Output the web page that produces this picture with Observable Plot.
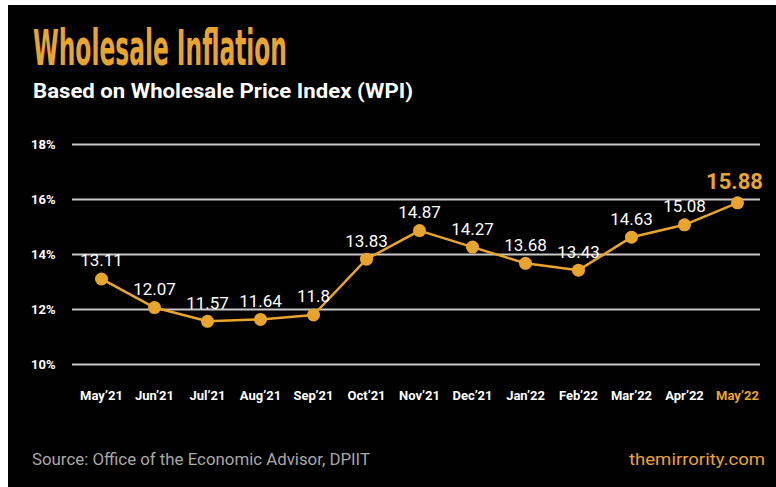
<!DOCTYPE html>
<html>
<head>
<meta charset="utf-8">
<script src="https://cdn.jsdelivr.net/npm/d3@7"></script>
<script src="https://cdn.jsdelivr.net/npm/@observablehq/plot@0.6"></script>
<style>
  html, body { margin: 0; padding: 0; background: #fff; }
  #wrap { position: relative; width: 776px; height: 487px; overflow: hidden; background: #fff; }
  #card { position: absolute; left: 8px; top: 5px; width: 768px; height: 482px; background: #000; }
  .layer { position: absolute; left: 0; }
  text { font-family: Roboto, "Noto Sans", sans-serif; }
</style>
</head>
<body>
<div id="wrap">
  <div id="card"></div>
  <svg class="layer" id="header" style="top:0" width="776" height="110">
    <text x="33" y="65" fill="#E8A52E" font-family="DejaVu Sans" font-stretch="condensed" font-weight="bold" font-size="50" textLength="254" lengthAdjust="spacingAndGlyphs" style="font-family:'DejaVu Sans Condensed','DejaVu Sans';">Wholesale Inflation</text>
    <text x="33" y="98" fill="#ffffff" font-weight="bold" font-size="21" textLength="380" lengthAdjust="spacingAndGlyphs">Based on Wholesale Price Index (WPI)</text>
  </svg>
  <div class="layer" id="chart" style="top:110px"></div>
  <svg class="layer" id="footer" style="top:420px" width="776" height="67">
    <text x="32" y="45" fill="#a8a8a8" font-size="16" textLength="338" lengthAdjust="spacingAndGlyphs">Source: Office of the Economic Advisor, DPIIT</text>
    <text x="629" y="45" fill="#E8A52E" font-size="17" textLength="136" lengthAdjust="spacingAndGlyphs">themirrority.com</text>
  </svg>
</div>
<script>
const months = ["May’21","Jun’21","Jul’21","Aug’21","Sep’21","Oct’21","Nov’21","Dec’21","Jan’22","Feb’22","Mar’22","Apr’22","May’22"];
const wpi = [13.11, 12.07, 11.57, 11.64, 11.8, 13.83, 14.87, 14.27, 13.68, 13.43, 14.63, 15.08, 15.88];
const yTicks = [10, 12, 14, 16, 18];

const gold = "#E8A52E";
const data = months.map((m, i) => ({month: m, value: wpi[i]}));
const last = data.slice(-1);
const rest = data.slice(0, -1);

const chart = Plot.plot({
  width: 776,
  height: 310,
  marginLeft: 97,
  marginRight: 36,
  marginTop: 34,
  marginBottom: 56,
  style: {background: "transparent", fontFamily: "Roboto, sans-serif", color: "#fff"},
  x: {type: "point", domain: months, padding: 0, axis: null},
  y: {domain: [10, 18]},
  marks: [
    Plot.ruleY(yTicks, {stroke: "#c8c8c8", strokeWidth: 2, insetLeft: -25, insetRight: -20}),
    Plot.axisY({ticks: yTicks, tickFormat: d => d + "%", tickSize: 0, tickPadding: 42, fill: "#fff", fontSize: 13, fontWeight: "bold", label: null}),
    Plot.text(months, {x: d => d, frameAnchor: "bottom", dy: 35, text: d => d, fill: d => d === months[months.length - 1] ? gold : "#ffffff", fontSize: 13, fontWeight: "bold"}),
    Plot.line(data, {x: "month", y: "value", stroke: gold, strokeWidth: 2.5}),
    Plot.dot(data, {x: "month", y: "value", r: 6.5, fill: gold}),
    Plot.text(rest, {x: "month", y: "value", text: d => String(d.value), dy: -18, fill: "#ffffff", fontSize: 17}),
    Plot.text(last, {x: "month", y: "value", text: d => String(d.value), dy: -21, dx: -3, fill: gold, fontSize: 22, fontWeight: "bold"})
  ]
});
document.getElementById("chart").appendChild(chart);
</script>
</body>
</html>
